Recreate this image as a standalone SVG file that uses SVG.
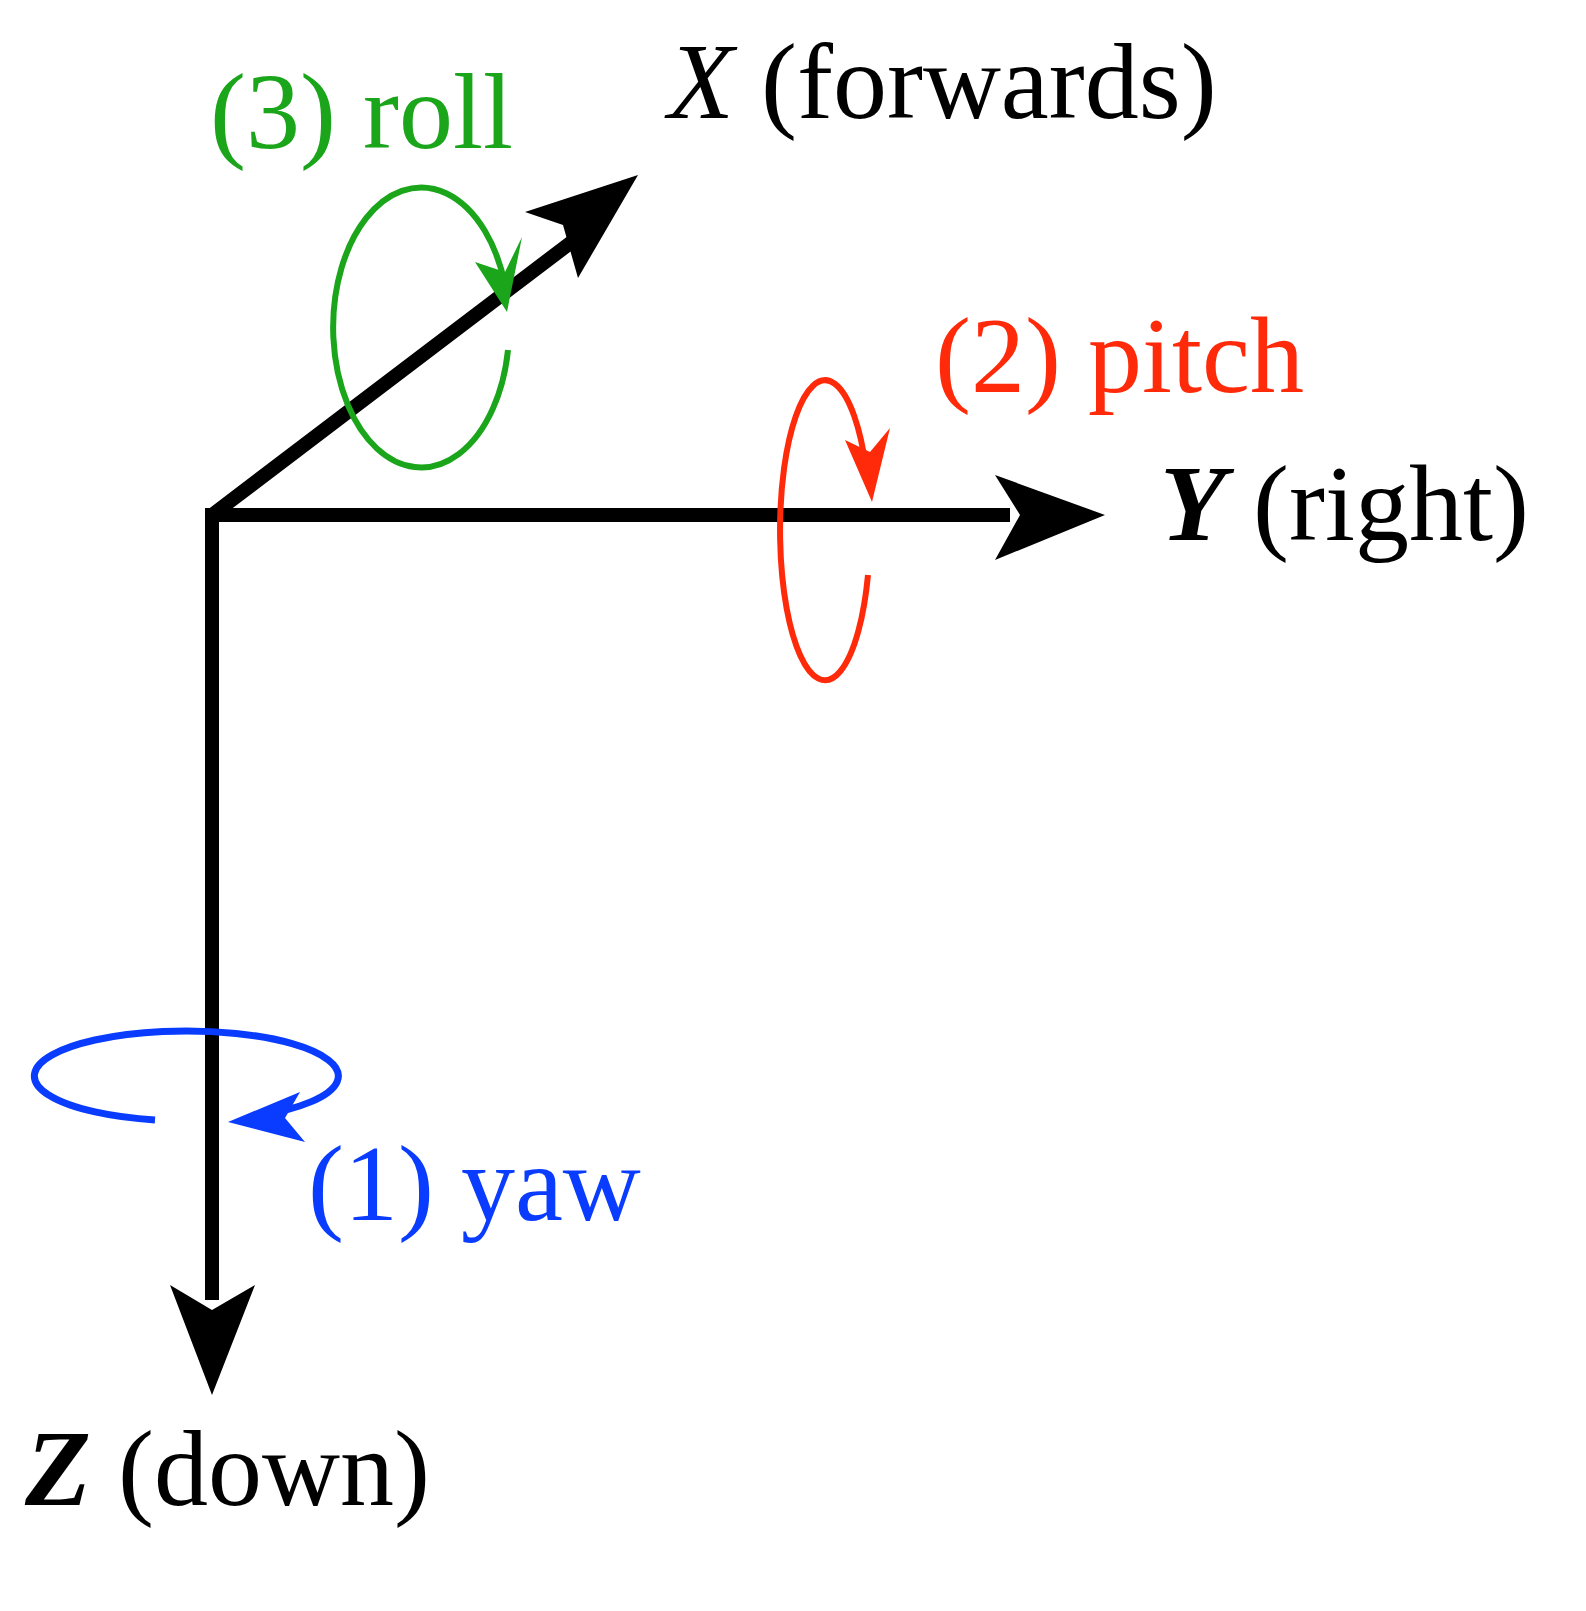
<svg xmlns="http://www.w3.org/2000/svg" width="1586" height="1611" viewBox="0 0 1586 1611">
<style>
text{font-family:"Liberation Serif",serif;font-size:108px}
.ax{stroke:#000;stroke-width:14;fill:none}
.g{stroke:#1aa51a;stroke-width:6;fill:none}
.r{stroke:#ff2a0a;stroke-width:6;fill:none}
.b{stroke:#0a3cff;stroke-width:7;fill:none}
</style>
<rect width="1586" height="1611" fill="#fff"/>
<g id="connectors">
<path class="ax" d="M212 1300 V515 H1010 M212 515 L590 228"/>
<polygon points="1105,515 995,475 1020,515 995,560"/>
<polygon points="212,1395 170,1285 212,1310 255,1285"/>
<polygon points="638,175 525,212 563,225 578,278"/>
</g>
<g id="roll">
<path class="g" d="M508 350 A88 140 0 1 1 505 285"/>
<polygon points="507,312 475,262 505,272 522,237" fill="#1aa51a"/>
<text x="210" y="148" fill="#1aa51a">(3) roll</text>
</g>
<g id="pitch">
<path class="r" d="M868 575 A45 150 0 1 1 866 468"/>
<polygon points="872,502 845,440 870,452 890,428" fill="#ff2a0a"/>
<text x="935" y="392" fill="#ff2a0a">(2) pitch</text>
</g>
<g id="yaw">
<path class="b" d="M155 1120 A152 45 0 1 1 262 1115"/>
<polygon points="228,1122 300,1092 285,1118 305,1142" fill="#0a3cff"/>
<text x="308" y="1220" fill="#0a3cff">(1) yaw</text>
</g>
<g id="labels">
<text x="668" y="118"><tspan font-style="italic">X</tspan> (forwards)</text>
<text x="1160" y="540"><tspan font-style="italic" font-weight="bold">Y</tspan> (right)</text>
<text x="25" y="1505"><tspan font-style="italic" font-weight="bold">Z</tspan> (down)</text>
</g>
</svg>
